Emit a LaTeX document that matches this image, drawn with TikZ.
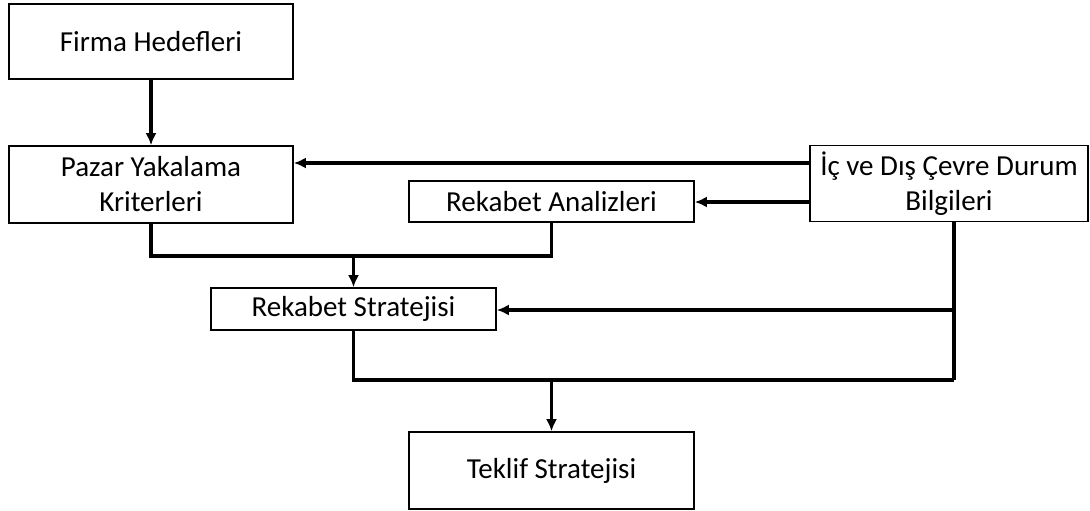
\documentclass[tikz,border=0pt]{standalone}
\usepackage{fontspec}
\setmainfont{Carlito}
\usetikzlibrary{arrows.meta,calc}
\begin{document}
\begin{tikzpicture}[x=1pt,y=-1pt,
  box/.style={draw,line width=1.6pt,inner sep=0pt,align=center,
    font=\fontsize{29}{35}\selectfont},
  conn/.style={line width=3.4pt},
  arr/.style={conn,-{Latex[length=12pt,width=11pt]}}]
\useasboundingbox (0,0) rectangle (1090,511);
\node[box,minimum width=284pt,minimum height=75pt] (fh) at (151,41.5) {Firma Hedefleri};
\node[box,minimum width=284pt,minimum height=77pt] (pk) at (151,184.5) {Pazar Yakalama\\Kriterleri};
\node[box,minimum width=285pt,minimum height=41pt] (ra) at (551.5,201.5) {Rekabet Analizleri};
\node[box,minimum width=278pt,minimum height=76pt] (ic) at (949,183.5) {İç ve Dış Çevre Durum\\Bilgileri};
\node[box,minimum width=285pt,minimum height=42pt] (rs) at (353.5,309) {Rekabet Stratejisi};
\node[box,minimum width=285pt,minimum height=77pt] (ts) at (551.5,470.5) {Teklif Stratejisi};
\coordinate (m1) at (353.5,256);
\coordinate (c1) at (954,310);
\coordinate (c2) at (954,380);
\coordinate (p1) at (810,163);
\coordinate (p2) at (810,202);
\draw[arr] (fh.south) -- (pk.north);
\draw[arr] (p1) -- (p1 -| pk.east);
\draw[arr] (p2) -- (p2 -| ra.east);
\draw[conn] (pk.south) |- (m1) -| (ra.south);
\draw[arr] (m1) -- (rs.north);
\draw[conn] (ic.south -| c1) -- (c2);
\draw[arr] (c1) -- (c1 -| rs.east);
\draw[conn] (rs.south) |- (c2);
\draw[arr] (ts.north |- c2) -- (ts.north);
\end{tikzpicture}
\end{document}
